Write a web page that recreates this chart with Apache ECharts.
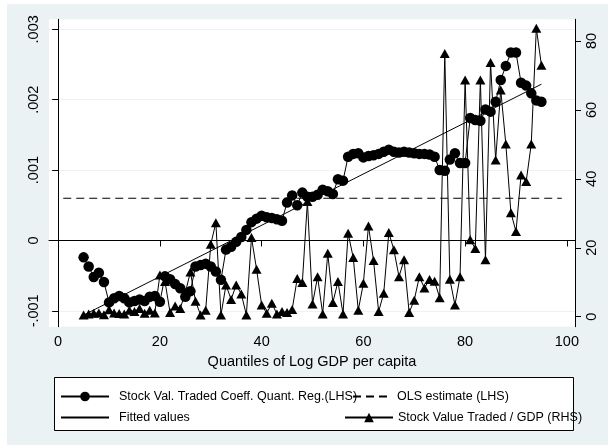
<!DOCTYPE html>
<html>
<head>
<meta charset="utf-8">
<script src="https://cdn.jsdelivr.net/npm/echarts@6/dist/echarts.min.js"></script>
<style>html,body{margin:0;padding:0;background:#fff}#c{width:608px;height:445px}</style>
</head>
<body>
<div id="c"></div>
<script>
// Quantiles (x)
const quantiles = [5,6,7,8,9,10,11,12,13,14,15,16,17,18,19,20,21,22,23,24,25,26,27,28,29,30,31,32,33,34,35,36,37,38,39,40,41,42,43,44,45,46,47,48,49,50,51,52,53,54,55,56,57,58,59,60,61,62,63,64,65,66,67,68,69,70,71,72,73,74,75,76,77,78,79,80,81,82,83,84,85,86,87,88,89,90,91,92,93,94,95];
// Stock Val. Traded Coeff. Quant. Reg. (LHS)
const coeffQR = [-0.00024,-0.00037,-0.00052,-0.00046,-0.00059,-0.00088,-0.00082,-0.00079,-0.00082,-0.00088,
 -0.00086,-0.00084,-0.00086,-0.00080,-0.00079,-0.00087,-0.00051,-0.00055,-0.00062,-0.00068,
 -0.00080,-0.00072,-0.00037,-0.00035,-0.00033,-0.00037,-0.00044,-0.00056,-0.00013,-0.00009,
 -0.00002,0.00005,0.00015,0.00026,0.00031,0.00035,0.00033,0.00032,0.00030,0.00028,
 0.00054,0.00064,0.00050,0.00068,0.00062,0.00062,0.00065,0.00072,0.00070,0.00066,
 0.00087,0.00085,0.00119,0.00123,0.00124,0.00118,0.00120,0.00121,0.00123,0.00126,
 0.00129,0.00126,0.00125,0.00126,0.00125,0.00124,0.00123,0.00123,0.00122,0.00119,
 0.00100,0.00099,0.00115,0.00124,0.00110,0.00110,0.00174,0.00171,0.00170,0.00186,
 0.00183,0.00197,0.00228,0.00248,0.00267,0.00267,0.00224,0.00220,0.00209,0.00199,0.00197];
// Stock Value Traded / GDP (RHS)
const stockValGDP = [0.5,0.8,1.0,1.1,0.6,2.0,1.1,0.9,0.8,1.9,
 1.5,2.4,1.0,1.9,1.1,12.1,10.2,1.2,3.1,2.4,
 7.0,13.0,4.5,0.5,1.9,21.0,27.3,0.5,9.2,5.0,
 9.2,6.6,0.5,23.0,13.8,3.4,1.0,3.9,0.8,1.5,
 1.2,2.1,11.1,9.9,33.4,3.7,11.6,0.8,18.4,4.1,
 10.2,0.8,24.2,17.2,1.9,9.7,26.3,16.3,1.5,6.8,
 24.4,19.4,11.6,16.5,1.2,4.8,11.6,8.3,10.8,10.3,
 5.5,76.4,10.9,3.4,11.6,68.7,22.3,19.8,68.7,16.5,
 73.8,45.5,65.8,50.1,30.2,24.7,41.1,39.2,50.1,83.7,73.0];
// Fitted values (endpoints of the fitted line)
const fittedX = [5, 95];
const fittedY = [-0.00106, 0.00222];
// OLS estimate (LHS)
const olsX = [1, 99];
const olsY = [0.0006, 0.0006];
// Tick labels
const xTicks = [0,20,40,60,80,100];
const leftTicks = [-0.001,0,0.001,0.002,0.003];
const leftTickLabels = ['-.001','0','.001','.002','.003'];
const rightTicks = [0,20,40,60,80];

const zip = (a,b) => a.map((v,i)=>[v,b[i]]);
const FONT = 'Liberation Sans, Arial, Helvetica, sans-serif';
const GRIDC = '#eaf2f3';

const chart = echarts.init(document.getElementById('c'), null, {renderer:'canvas'});
const legendText = {color:'#000', fontFamily:FONT, fontSize:12.5};
const legendBase = {orient:'horizontal', itemWidth:48, itemHeight:12, padding:0, itemGap:0, selectedMode:false};
chart.setOption({
  backgroundColor: GRIDC,
  animation:false,
  graphic:[
    {type:'rect', shape:{x:0,y:0,width:7,height:445}, style:{fill:'#fff'}, silent:true},
    {type:'rect', shape:{x:0,y:0,width:608,height:4}, style:{fill:'#fff'}, silent:true},
    {type:'rect', shape:{x:54.5,y:377.5,width:519,height:53}, style:{fill:'#fff', stroke:'#000', lineWidth:1}, silent:true}
  ],
  grid:{left:49, right:33, top:19.3, bottom:118.3, show:true, backgroundColor:'#fff', borderWidth:0, containLabel:false, outerBoundsMode:'none'},
  legend:[
    Object.assign({}, legendBase, {left:60, top:390, textStyle:Object.assign({padding:[0,0,0,5]}, legendText), data:['Stock Val. Traded Coeff. Quant. Reg.(LHS)']}),
    Object.assign({}, legendBase, {left:352, top:390, itemWidth:37, textStyle:Object.assign({padding:[0,0,0,2]}, legendText), itemStyle:{opacity:0}, data:['OLS estimate (LHS)']}),
    Object.assign({}, legendBase, {left:60, top:411, textStyle:Object.assign({padding:[0,0,0,5]}, legendText), itemStyle:{opacity:0}, data:['Fitted values']}),
    Object.assign({}, legendBase, {left:344, top:411, textStyle:Object.assign({padding:[0,0,0,0]}, legendText), data:['Stock Value Traded / GDP (RHS)']})
  ],
  xAxis:{
    type:'value', min:-1.8, max:101.6,
    name:'Quantiles of Log GDP per capita', nameLocation:'middle', nameGap:25,
    nameTextStyle:{color:'#000', fontFamily:FONT, fontSize:14.5},
    axisLine:{show:true, lineStyle:{color:'#000', width:1}},
    axisTick:{show:true, length:6, customValues:xTicks, lineStyle:{color:'#000'}},
    axisLabel:{customValues:xTicks, color:'#000', fontFamily:FONT, fontSize:14.5, margin:8},
    splitLine:{show:false}
  },
  yAxis:[
    {
      type:'value', position:'left', min:-0.0012253, max:0.0031421,
      axisLine:{show:true, lineStyle:{color:'#000', width:1}},
      axisTick:{show:true, length:6, customValues:leftTicks, lineStyle:{color:'#000'}},
      axisLabel:{customValues:leftTicks, rotate:90, color:'#000', fontFamily:FONT, fontSize:14.5, margin:8,
        formatter:(v)=>{ const i = leftTicks.findIndex(t=>Math.abs(t-v)<1e-9); return i>=0?leftTickLabels[i]:''; }},
      splitLine:{show:true, lineStyle:{color:GRIDC, width:1}}
    },
    {
      type:'value', position:'right', min:-2.9, max:86.3,
      axisLine:{show:true, lineStyle:{color:'#000', width:1}},
      axisTick:{show:true, length:6, customValues:rightTicks, lineStyle:{color:'#000'}},
      axisLabel:{customValues:rightTicks, rotate:90, color:'#000', fontFamily:FONT, fontSize:14.5, margin:9},
      splitLine:{show:false}
    }
  ],
  series:[
    {name:'Stock Val. Traded Coeff. Quant. Reg.(LHS)', type:'line', yAxisIndex:0, data:zip(quantiles, coeffQR),
      symbol:'circle', symbolSize:10.5, showAllSymbol:true, itemStyle:{color:'#000'}, lineStyle:{color:'#000', width:1}, z:2},
    {name:'OLS estimate (LHS)', type:'line', yAxisIndex:0, data:zip(olsX, olsY), symbol:'none',
      itemStyle:{color:'rgba(0,0,0,0)', borderWidth:0}, lineStyle:{color:'#000', width:1.2, type:[8,5]}, z:3},
    {name:'Fitted values', type:'line', yAxisIndex:0, data:zip(fittedX, fittedY), symbol:'none',
      itemStyle:{color:'rgba(0,0,0,0)', borderWidth:0}, lineStyle:{color:'#000', width:1}, z:4},
    {name:'Stock Value Traded / GDP (RHS)', type:'line', yAxisIndex:1, data:zip(quantiles, stockValGDP),
      symbol:'triangle', symbolSize:[10,9], showAllSymbol:true, itemStyle:{color:'#000'}, lineStyle:{color:'#000', width:1}, z:5}
  ]
});
</script>
</body>
</html>
